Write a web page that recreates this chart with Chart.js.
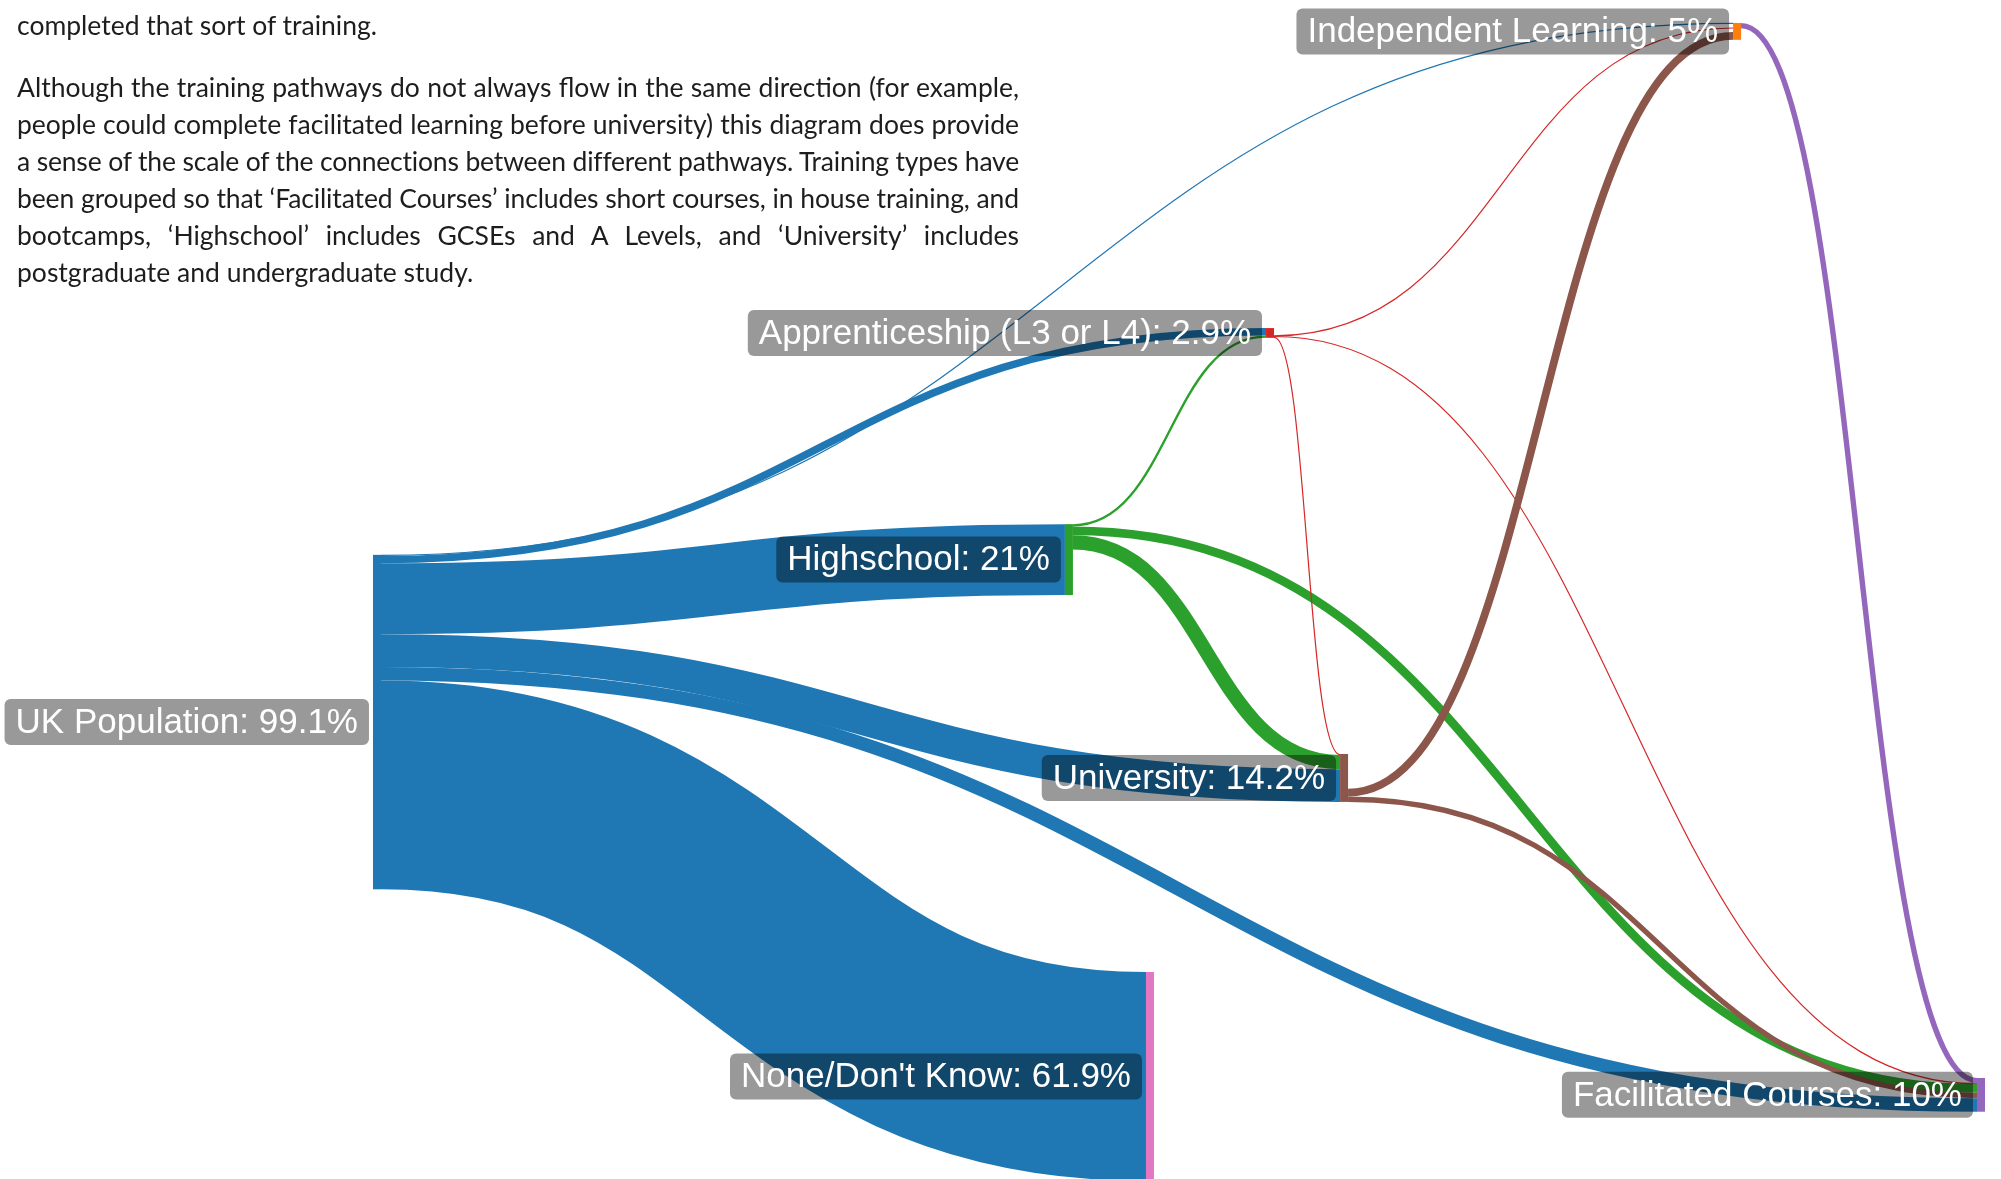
<!DOCTYPE html>
<html>
<head>
<meta charset="utf-8">
<script src="https://cdn.jsdelivr.net/npm/chart.js@4.4.1/dist/chart.umd.min.js"></script>
<style>
  html, body { margin: 0; padding: 0; background: #fff; }
  #wrap { position: relative; width: 2001px; height: 1179px; overflow: hidden; }
  #chart { position: absolute; left: 0; top: 0; }
  #notes { position: absolute; left: 17px; top: 7px; width: 1002px; font-family: Lato, "Open Sans", sans-serif;
           font-size: 26.5px; line-height: 37px; color: #1d1d1d; }
  #notes .ln { text-align: justify; text-align-last: justify; white-space: nowrap; }
  #notes .ln.last { text-align-last: left; }
  #notes .gap { height: 25px; }
</style>
</head>
<body>
<div id="wrap">
  <canvas id="chart" width="2001" height="1179"></canvas>
  <div id="notes">
    <div class="ln last">completed that sort of training.</div>
    <div class="gap"></div>
    <div class="ln">Although the training pathways do not always flow in the same direction (for example,</div>
    <div class="ln">people could complete facilitated learning before university) this diagram does provide</div>
    <div class="ln">a sense of the scale of the connections between different pathways. Training types have</div>
    <div class="ln">been grouped so that ‘Facilitated Courses’ includes short courses, in house training, and</div>
    <div class="ln">bootcamps, ‘Highschool’ includes GCSEs and A Levels, and ‘University’ includes</div>
    <div class="ln last">postgraduate and undergraduate study.</div>
  </div>
</div>
<script>
// nodes: UK, IL, HS, Appr, Uni, FC, None
const nodeNames = ['UK Population', 'Independent Learning', 'Highschool', 'Apprenticeship (L3 or L4)',
                   'University', 'Facilitated Courses', "None/Don't Know"];
const nodeValues = [99.1, 5, 21, 2.9, 14.2, 10, 61.9];

// flows, % of population
const linkSources = [0, 0, 0, 0, 0, 0, 2, 2, 2, 3, 3, 3, 4, 4, 1];
const linkTargets = [1, 3, 2, 4, 5, 6, 3, 4, 5, 1, 4, 5, 1, 5, 5];
const linkValues  = [0.3, 2.2, 21, 9.7, 4.0, 61.9, 0.7, 4.2, 2.6, 0.2, 0.3, 0.2, 2.3, 1.6, 1.6];

// layout: x in % of width, top in population-% units down from the top edge
const nodeX   = [18.64, 86.61, 53.22, 63.27, 66.97, 98.8, 57.27];
const nodeTop = [164.4, 6.8, 155.3, 97.2, 223.4, 319.4, 288.0];
const outAlign = ['top', 'top', 'top', 'bottom', 'bottom', 'top', 'top'];
const inAlign  = ['top', 'spread', 'top', 'top', 'top', 'top', 'top'];

const nodeColors = ['#1f77b4', '#ff7f0e', '#2ca02c', '#d62728', '#8c564b', '#9467bd', '#e377c2'];
const linkColors = ['#1f77b4', '#9467bd', '#2ca02c', '#d62728', '#8c564b', '#9467bd', '#e377c2'];
const NODE_W = 8;

// squeeze any justified line that would not fit the column
document.querySelectorAll('#notes .ln').forEach(el => {
  const probe = document.createElement('span');
  probe.textContent = el.textContent;
  probe.style.cssText = 'position:absolute;visibility:hidden;white-space:nowrap;';
  el.appendChild(probe);
  const w = probe.getBoundingClientRect().width;
  el.removeChild(probe);
  if (w > 1000) el.style.letterSpacing = ((1000 - w) / el.textContent.length).toFixed(3) + 'px';
});

function stack(list, n, align, key) {
  const total = list.reduce((a, l) => a + l.w, 0);
  const free = (n.y1 - n.y0) - total;
  let y = n.y0, gap = 0;
  if (align === 'bottom') y = n.y0 + free;
  if (align === 'spread' && list.length > 1) gap = free / (list.length - 1);
  list.forEach(l => { l[key] = y + l.w / 2; y += l.w + gap; });
}

function layout(xs, ys) {
  const pxPer = Math.abs(ys.getPixelForValue(1) - ys.getPixelForValue(0));
  const nodes = nodeNames.map((name, i) => {
    const x0 = xs.getPixelForValue(nodeX[i]);
    const y0 = ys.getPixelForValue(nodeTop[i]);
    const y1 = ys.getPixelForValue(nodeTop[i] + nodeValues[i]);
    return { i, name, x0, x1: x0 + NODE_W, y0, y1, cy: (y0 + y1) / 2 };
  });
  const links = linkValues.map((v, k) => ({ s: linkSources[k], t: linkTargets[k], v, w: v * pxPer }));
  links.forEach(l => {
    const a = nodes[l.s], b = nodes[l.t];
    l.slope = (b.cy - a.cy) / (b.x0 - a.x1);
  });
  nodes.forEach(n => {
    const outs = links.filter(l => l.s === n.i).sort((a, b) => a.slope - b.slope);
    const ins = links.filter(l => l.t === n.i).sort((a, b) => b.slope - a.slope);
    stack(outs, n, outAlign[n.i], 'sy');
    stack(ins, n, inAlign[n.i], 'ty');
  });
  return { nodes, links };
}

function roundRect(ctx, x, y, w, h, r) {
  ctx.beginPath();
  ctx.moveTo(x + r, y);
  ctx.arcTo(x + w, y, x + w, y + h, r);
  ctx.arcTo(x + w, y + h, x, y + h, r);
  ctx.arcTo(x, y + h, x, y, r);
  ctx.arcTo(x, y, x + w, y, r);
  ctx.closePath();
}

const sankey = {
  id: 'sankey',
  beforeDatasetsDraw(chart) {
    const { ctx, scales } = chart;
    const L = layout(scales.x, scales.y);
    chart.$sankey = L;
    ctx.save();
    ctx.lineCap = 'butt';
    L.links.forEach(l => {
      const a = L.nodes[l.s], b = L.nodes[l.t];
      const xm = (a.x1 + b.x0) / 2;
      ctx.strokeStyle = linkColors[l.s];
      ctx.lineWidth = Math.max(l.w, 1.2);
      ctx.beginPath();
      ctx.moveTo(a.x1, l.sy);
      ctx.bezierCurveTo(xm, l.sy, xm, l.ty, b.x0, l.ty);
      ctx.stroke();
    });
    ctx.restore();
  },
  afterDatasetsDraw(chart) {
    const { ctx } = chart;
    const L = chart.$sankey;
    ctx.save();
    L.nodes.forEach(n => {
      ctx.fillStyle = nodeColors[n.i];
      ctx.fillRect(n.x0, n.y0, NODE_W, n.y1 - n.y0);
    });
    ctx.font = '35px "Liberation Sans", Arial, sans-serif';
    ctx.textBaseline = 'middle';
    L.nodes.forEach(n => {
      const txt = n.name + ': ' + nodeValues[n.i] + '%';
      const tw = ctx.measureText(txt).width;
      const w = tw + 22, h = 46;
      const bx = n.x0 - 4 - w, by = n.cy - h / 2;
      ctx.fillStyle = 'rgba(0,0,0,0.4)';
      roundRect(ctx, bx, by, w, h, 6);
      ctx.fill();
      ctx.fillStyle = '#fff';
      ctx.fillText(txt, bx + 11, n.cy + 1);
    });
    ctx.restore();
  }
};

new Chart(document.getElementById('chart'), {
  type: 'scatter',
  data: {
    datasets: [{
      data: nodeX.map((x, i) => ({ x, y: nodeTop[i] })),
      pointRadius: 0
    }]
  },
  options: {
    responsive: false,
    animation: false,
    devicePixelRatio: 1,
    layout: { padding: 0 },
    plugins: { legend: { display: false }, tooltip: { enabled: false } },
    scales: {
      x: { type: 'linear', min: 0, max: 100, display: false },
      y: { type: 'linear', min: 0, max: 349.33, reverse: true, display: false }
    }
  },
  plugins: [sankey]
});
</script>
</body>
</html>
